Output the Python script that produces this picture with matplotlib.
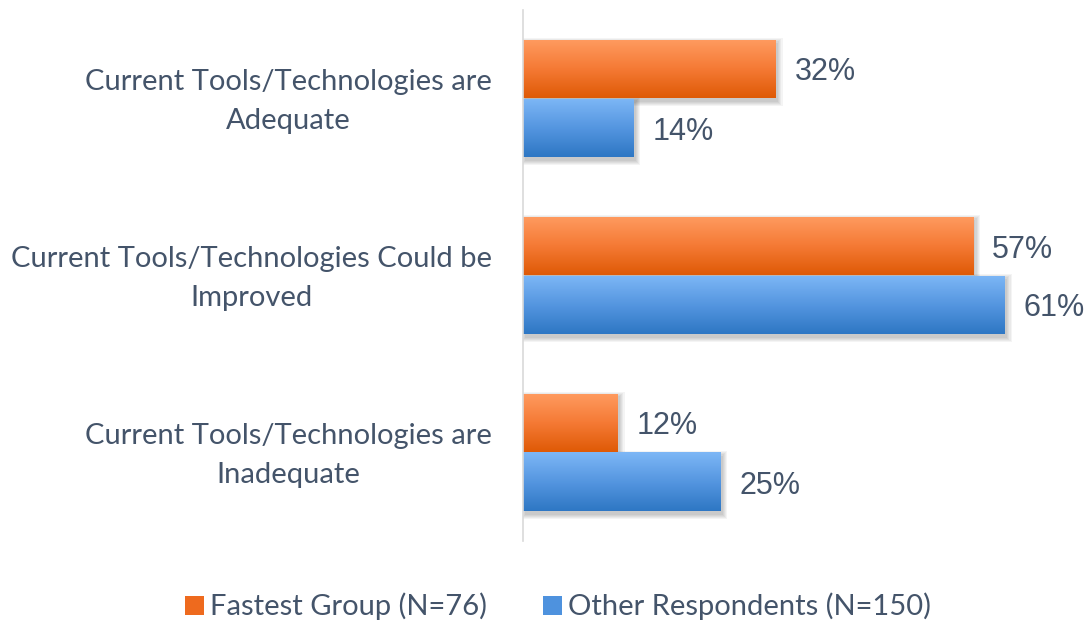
import numpy as np
import matplotlib.pyplot as plt
from matplotlib.patches import Rectangle
from matplotlib.colors import LinearSegmentedColormap
from matplotlib.transforms import ScaledTranslation

categories = ["Current Tools/Technologies are\nAdequate",
              "Current Tools/Technologies Could be\nImproved",
              "Current Tools/Technologies are\nInadequate"]
fastest = [32, 57, 12]
other = [14, 61, 25]
series_names = ["Fastest Group (N=76)", "Other Respondents (N=150)"]

text_col = "#44546A"
orange_cm = LinearSegmentedColormap.from_list("o", ["#FF9B60", "#F57A35", "#DF5A06"])
blue_cm = LinearSegmentedColormap.from_list("b", ["#7DB7F6", "#5596E0", "#2E77C4"])

fig = plt.figure(figsize=(10.91, 6.2), dpi=100)
ax = fig.add_axes([523 / 1091, 1 - 541 / 620, (1091 - 523) / 1091, 531 / 620])

h = 1 / 3
y = np.arange(len(categories))
px_x = 1 / 7.9      # data units per pixel, x
px_y = 1 / 177.0    # data units per pixel, y


def grad_bar(x0, yc, w, cmap):
    # soft shadow, offset right/down
    for k in range(5):
        g = k * 1.2
        ax.add_patch(Rectangle((x0 + (2 - g) * px_x, yc - h / 2 + (3 - g) * px_y),
                               w + 2 * g * px_x, h + 2 * g * px_y,
                               facecolor="black", alpha=0.045, linewidth=0, zorder=1))
    img = np.linspace(0, 1, 100).reshape(-1, 1)
    im = ax.imshow(img, cmap=cmap, aspect="auto", extent=[x0, x0 + w, yc + h / 2, yc - h / 2],
                   zorder=2, interpolation="bilinear")
    r = Rectangle((x0, yc - h / 2), w, h, facecolor="none", linewidth=0)
    ax.add_patch(r)
    im.set_clip_path(r)


for i in range(len(categories)):
    grad_bar(0, y[i] - h / 2, fastest[i], orange_cm)
    grad_bar(0, y[i] + h / 2, other[i], blue_cm)
    ax.text(fastest[i] + 2.4, y[i] - h / 2 + 3.5 * px_y, f"{fastest[i]}%", va="center", ha="left",
            fontsize=22, color=text_col, family="Liberation Sans")
    ax.text(other[i] + 2.4, y[i] + h / 2 + 3.5 * px_y, f"{other[i]}%", va="center", ha="left",
            fontsize=22, color=text_col, family="Liberation Sans")

ax.set_xlim(0, (1091 - 523) / 7.9)
ax.set_ylim(2.5, -0.5)
ax.set_xticks([])
for s in ["top", "right", "bottom"]:
    ax.spines[s].set_visible(False)
ax.spines["left"].set_color("#D9D9D9")
ax.spines["left"].set_linewidth(1.2)
ax.set_yticks([])

# category labels
shift = ScaledTranslation(0, -3 / 100, fig.dpi_scale_trans)
for i, cat in enumerate(categories):
    ax.text(-31 * px_x, y[i], cat, ha="right", va="center", multialignment="center",
            fontsize=21, color=text_col, family="Lato", linespacing=1.6,
            transform=ax.transData + shift, clip_on=False)

# legend
fig.patches.append(Rectangle((185 / 1091, 1 - 615 / 620), 19 / 1091, 19 / 620,
                             transform=fig.transFigure, facecolor="#EE6A1E", figure=fig))
fig.patches.append(Rectangle((543 / 1091, 1 - 615 / 620), 19 / 1091, 19 / 620,
                             transform=fig.transFigure, facecolor="#4E92DE", figure=fig))
fig.text(210 / 1091, 1 - 606 / 620, series_names[0], va="center", ha="left",
         fontsize=21, color=text_col, family="Lato")
fig.text(568 / 1091, 1 - 606 / 620, series_names[1], va="center", ha="left",
         fontsize=21, color=text_col, family="Lato")

fig.savefig("out.png", dpi=100)
